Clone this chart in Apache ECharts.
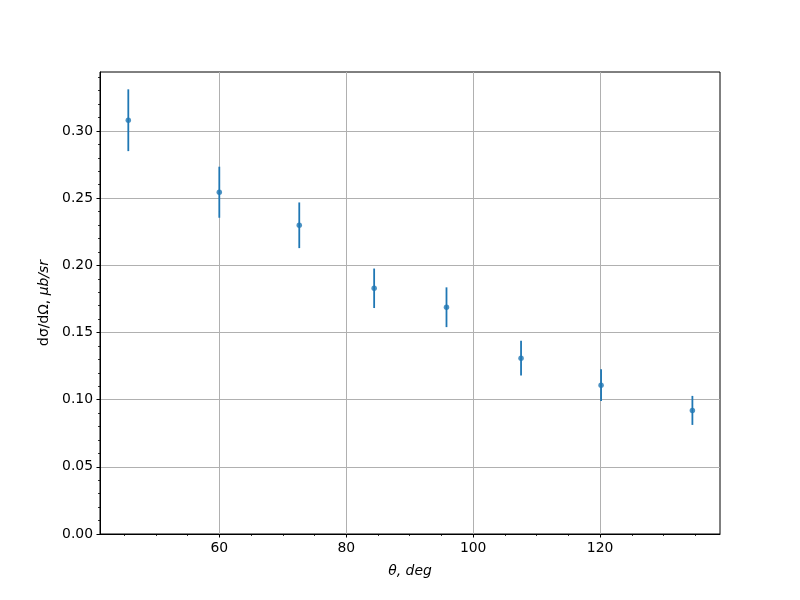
<!DOCTYPE html>
<html>
<head>
<meta charset="utf-8">
<script src="https://cdn.jsdelivr.net/npm/echarts@6/dist/echarts.min.js"></script>
<style>html,body{margin:0;padding:0;background:#fff}#c{width:800px;height:600px}</style>
</head>
<body>
<div id="c"></div>
<script>
const theta = [45.66, 60.0, 72.6, 84.4, 95.8, 107.55, 120.16, 134.55];
const dsigma = [0.308, 0.2544, 0.2298, 0.1829, 0.1688, 0.1309, 0.1108, 0.0920];
const errors = [0.023, 0.019, 0.017, 0.0147, 0.0148, 0.013, 0.0118, 0.0108];
const xMajorTicks = [60, 80, 100, 120];
const xMinorTicks = [45, 50, 55, 65, 70, 75, 85, 90, 95, 105, 110, 115, 125, 130, 135];
const yMajorTicks = [0, 0.05, 0.10, 0.15, 0.20, 0.25, 0.30];
const yMinorTicks = [0.01,0.02,0.03,0.04,0.06,0.07,0.08,0.09,0.11,0.12,0.13,0.14,0.16,0.17,0.18,0.19,0.21,0.22,0.23,0.24,0.26,0.27,0.28,0.29,0.31,0.32,0.33,0.34];
const xRange = [41.2, 138.9];
const yRange = [0, 0.3439];

const pts = theta.map((t, i) => [t, dsigma[i]]);
const bars = theta.map((t, i) => [t, dsigma[i] - errors[i], dsigma[i] + errors[i]]);

const font = 'DejaVu Sans';
const chart = echarts.init(document.getElementById('c'), null, {renderer: 'canvas'});
const baseX = {
  type: 'value', min: xRange[0], max: xRange[1], gridIndex: 0
};
const baseY = {
  type: 'value', min: yRange[0], max: yRange[1], gridIndex: 0
};
chart.setOption({
  animation: false,
  backgroundColor: '#fff',
  grid: {left: 100, right: 80, top: 72, bottom: 66, show: true, borderColor: '#000', borderWidth: 1, backgroundColor: 'transparent'},
  xAxis: [
    Object.assign({}, baseX, {
      position: 'bottom',
      axisLine: {show: true, onZero: false, lineStyle: {color: '#000', width: 1}},
      axisTick: {show: true, length: 3.5, customValues: xMajorTicks, lineStyle: {color: '#000', width: 1}},
      axisLabel: {show: true, customValues: xMajorTicks, margin: 7, color: '#000', fontFamily: font, fontSize: 13.9},
      splitLine: {show: true, lineStyle: {color: '#b0b0b0', width: 1}},
      name: '{i|θ, deg}', nameLocation: 'middle', nameGap: 30,
      nameTextStyle: {rich: {i: {fontFamily: font, fontStyle: 'italic', fontSize: 13.9, color: '#000'}}}
    }),
    Object.assign({}, baseX, {
      position: 'bottom',
      axisLine: {show: false},
      axisTick: {show: true, length: 2, customValues: xMinorTicks, lineStyle: {color: '#000', width: 0.8}},
      axisLabel: {show: false},
      splitLine: {show: false}
    })
  ],
  yAxis: [
    Object.assign({}, baseY, {
      position: 'left',
      axisLine: {show: true, onZero: false, lineStyle: {color: '#000', width: 1}},
      axisTick: {show: true, length: 3.5, customValues: yMajorTicks, lineStyle: {color: '#000', width: 1}},
      axisLabel: {show: true, customValues: yMajorTicks, margin: 7, color: '#000', fontFamily: font, fontSize: 13.9,
        formatter: v => v.toFixed(2)},
      splitLine: {show: true, lineStyle: {color: '#b0b0b0', width: 1}},
      name: '{a|dσ/dΩ, }{b|μb/sr}', nameLocation: 'middle', nameGap: 48,
      nameTextStyle: {rich: {
        a: {fontFamily: font, fontSize: 13.9, color: '#000'},
        b: {fontFamily: font, fontStyle: 'italic', fontSize: 13.9, color: '#000'}
      }}
    }),
    Object.assign({}, baseY, {
      position: 'left',
      axisLine: {show: false},
      axisTick: {show: true, length: 2, customValues: yMinorTicks, lineStyle: {color: '#000', width: 0.8}},
      axisLabel: {show: false},
      splitLine: {show: false}
    })
  ],
  series: [
    {
      type: 'custom', xAxisIndex: 0, yAxisIndex: 0,
      data: bars,
      renderItem: function (params, api) {
        const top = api.coord([api.value(0), api.value(2)]);
        const bot = api.coord([api.value(0), api.value(1)]);
        return {type: 'line', shape: {x1: top[0], y1: top[1], x2: bot[0], y2: bot[1]},
          style: {stroke: '#1f77b4', lineWidth: 1.8}};
      },
      z: 3
    },
    {
      type: 'scatter', xAxisIndex: 0, yAxisIndex: 0,
      data: pts, symbol: 'circle', symbolSize: 5.5,
      itemStyle: {color: '#1f77b4'}, z: 4
    }
  ]
});
</script>
</body>
</html>
